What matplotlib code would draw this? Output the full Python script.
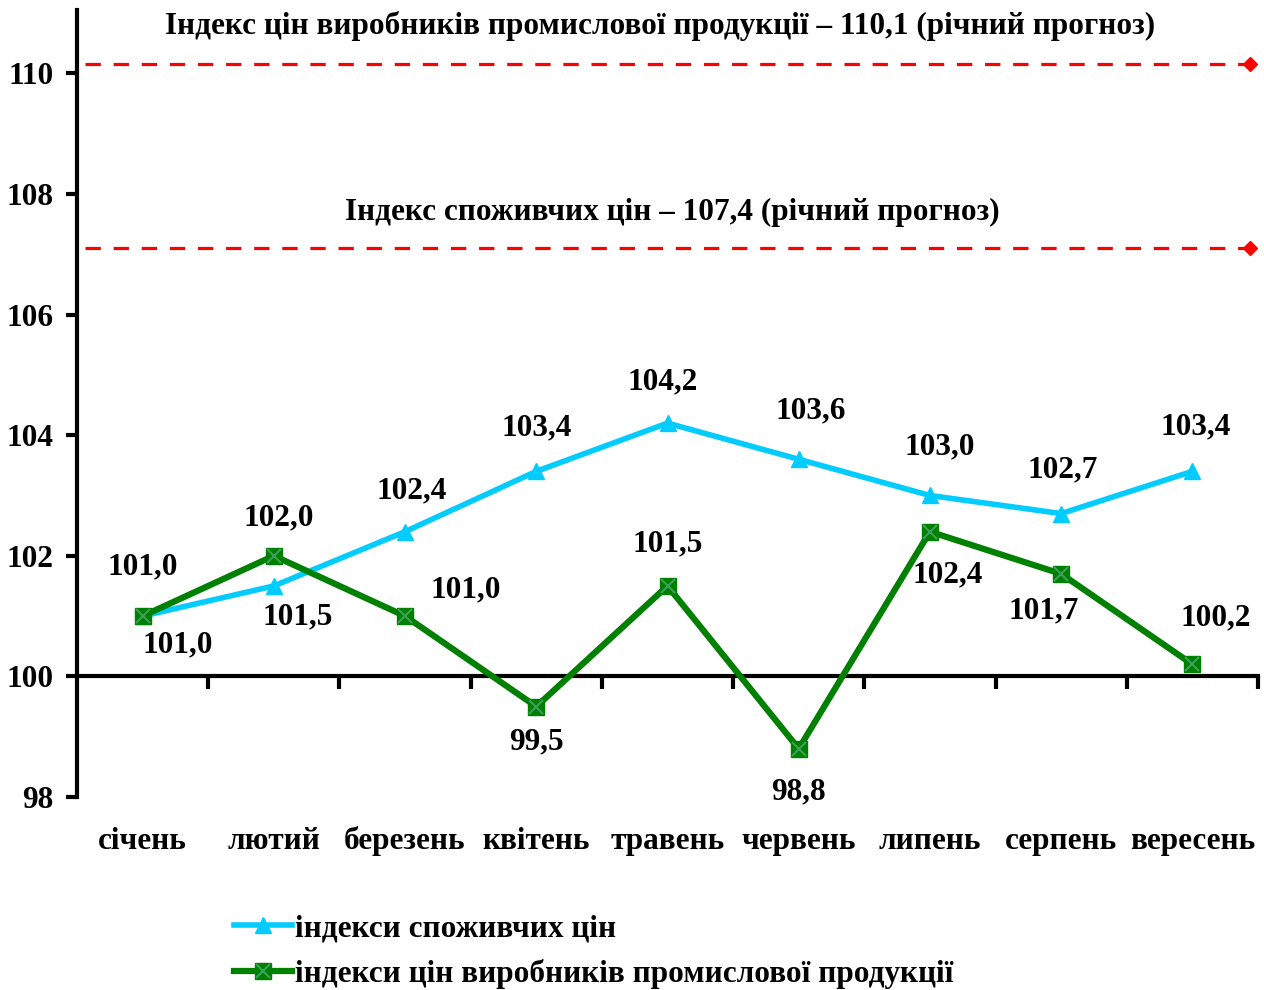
import numpy as np
import matplotlib.pyplot as plt
from matplotlib.lines import Line2D

plt.rcParams['font.family'] = ['Liberation Serif', 'DejaVu Serif']
plt.rcParams['font.weight'] = 'bold'

# --- Data ---
months = ['січень', 'лютий', 'березень', 'квітень', 'травень', 'червень',
          'липень', 'серпень', 'вересень']
cpi = [101.0, 101.5, 102.4, 103.4, 104.2, 103.6, 103.0, 102.7, 103.4]
ppi = [101.0, 102.0, 101.0, 99.5, 101.5, 98.8, 102.4, 101.7, 100.2]
cpi_labels = ['101,0', '101,5', '102,4', '103,4', '104,2', '103,6', '103,0', '102,7', '103,4']
ppi_labels = ['101,0', '102,0', '101,0', '99,5', '101,5', '98,8', '102,4', '101,7', '100,2']
ppi_forecast = 110.15
cpi_forecast = 107.1
ppi_forecast_text = 'Індекс цін виробників промислової продукції – 110,1 (річний прогноз)'
cpi_forecast_text = 'Індекс споживчих цін – 107,4 (річний прогноз)'
yticks = [98, 100, 102, 104, 106, 108, 110]
legend_labels = ['індекси споживчих цін', 'індекси цін виробників промислової продукції']

# label offsets in pixels (dx, dy up)
cpi_off = [(35, -29), (24, -31), (7, 41), (0, 43), (-5, 41), (12, 48), (10, 49), (2, 44), (3, 44)]
ppi_off = [(0, 49), (5, 38), (61, 26), (0, -35), (0, 42), (0, -43), (18, -43), (-17, -37), (23, 46)]

CYAN = '#00CCFF'
GREEN = '#008000'
XGREEN = '#3CA05A'
RED = '#FF0000'
FS = 22.5

fig = plt.figure(figsize=(12.64, 9.9), dpi=100)
ax = fig.add_axes([77 / 1264, 1 - 797 / 990, 1181 / 1264, 787 / 990])
ax.set_xlim(-0.5, 8.5)
ax.set_ylim(98, 111.05)

x = np.arange(len(months))

# forecast lines
for lvl in (ppi_forecast, cpi_forecast):
    ax.plot([-0.44, 8.44], [lvl, lvl], color=RED, lw=2.3, ls=(0, (4.8, 4.0)), zorder=2)
    ax.plot([8.44], [lvl], marker='D', color=RED, ms=7, zorder=3)
ax.text(3.94, 110.79, ppi_forecast_text, ha='center', va='center', fontsize=FS, fontweight='bold')
ax.text(4.04, 107.7, cpi_forecast_text, ha='center', va='center', fontsize=FS, fontweight='bold')

# series
ax.plot(x, cpi, color=CYAN, lw=4.0, marker='^', ms=11, zorder=4)
ax.plot(x, ppi, color=GREEN, lw=4.5, marker='s', ms=11, zorder=5)
ax.plot(x, ppi, ls='none', marker='x', color=XGREEN, ms=10, mew=1.5, zorder=6)

for xi, v, lab, (dx, dy) in zip(x, cpi, cpi_labels, cpi_off):
    ax.annotate(lab, (xi, v), xytext=(dx, dy), textcoords='offset pixels',
                ha='center', va='center', fontsize=FS, fontweight='bold')
for xi, v, lab, (dx, dy) in zip(x, ppi, ppi_labels, ppi_off):
    ax.annotate(lab, (xi, v), xytext=(dx, dy), textcoords='offset pixels',
                ha='center', va='center', fontsize=FS, fontweight='bold')

# axes styling
for s in ('top', 'right'):
    ax.spines[s].set_visible(False)
ax.spines['left'].set_linewidth(3)
ax.spines['bottom'].set_linewidth(3)
ax.spines['bottom'].set_position(('data', 100))
ax.set_yticks(yticks)
ax.set_yticklabels([str(t) for t in yticks], fontsize=FS, fontweight='bold')
ax.tick_params(axis='y', length=8, width=3, direction='out', pad=9)
ax.set_xticks(np.arange(0.5, 9, 1))
ax.set_xticklabels([])
ax.tick_params(axis='x', length=9, width=3, direction='out')

for xi, m in zip(x, months):
    ax.text(xi, 97.27, m, ha='center', va='center', fontsize=FS, fontweight='bold',
            clip_on=False)

# legend
h1 = Line2D([], [], color=CYAN, lw=4.0, marker='^', ms=11)
h2a = Line2D([], [], color=GREEN, lw=4.5, marker='s', ms=11)
h2b = Line2D([], [], ls='none', color=XGREEN, marker='x', ms=10, mew=1.5)
fig.legend([h1, (h2a, h2b)], legend_labels, loc='upper left',
           bbox_to_anchor=(206 / 1264, 1 - 886 / 990), frameon=False,
           prop={'size': FS, 'weight': 'bold'}, handlelength=1.85, handletextpad=0.1,
           labelspacing=0.5)

fig.savefig('out.png', dpi=100)
